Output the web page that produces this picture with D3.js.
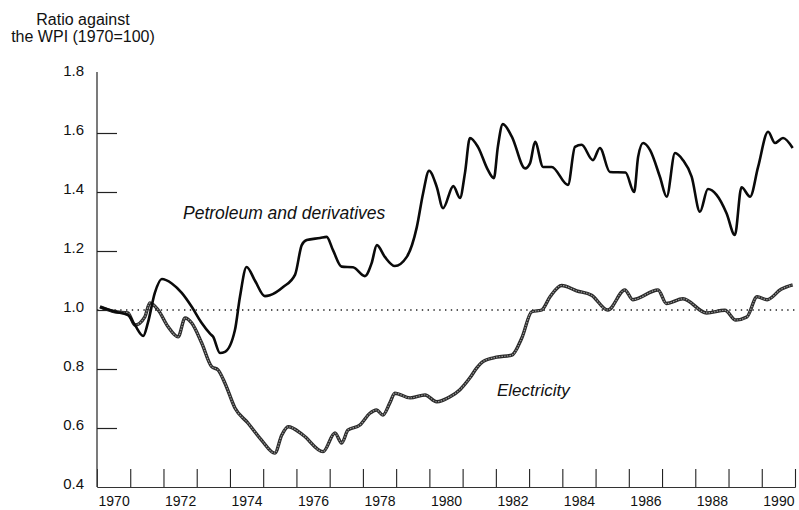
<!DOCTYPE html>
<html>
<head>
<meta charset="utf-8">
<script src="https://cdn.jsdelivr.net/npm/d3@7"></script>
<style>
  body { margin: 0; background: #fff; }
  text { font-family: "Liberation Sans", Arial, sans-serif; fill: #111; }
</style>
</head>
<body>
<div id="vis"></div>
<script>
// Price ratios against the WPI, 1970 = 1.0
const petroleum = [
  [1970.09, 1.010], [1970.54, 0.994], [1970.93, 0.983], [1971.14, 0.949],
  [1971.39, 0.912], [1971.53, 0.956], [1971.74, 1.058], [1971.95, 1.105],
  [1972.25, 1.090], [1972.55, 1.058], [1972.85, 1.011], [1973.15, 0.956],
  [1973.40, 0.920], [1973.49, 0.910], [1973.70, 0.854], [1973.85, 0.858],
  [1974.15, 0.932], [1974.30, 1.044], [1974.50, 1.146], [1974.75, 1.100],
  [1975.05, 1.047], [1975.20, 1.050], [1975.60, 1.078], [1975.96, 1.120],
  [1976.16, 1.220], [1976.31, 1.237], [1976.71, 1.244], [1976.91, 1.248],
  [1977.10, 1.203], [1977.36, 1.147], [1977.70, 1.145], [1978.06, 1.115],
  [1978.26, 1.158], [1978.42, 1.220], [1978.66, 1.180], [1978.96, 1.149],
  [1979.32, 1.180], [1979.62, 1.280], [1979.81, 1.395], [1979.99, 1.472],
  [1980.22, 1.418], [1980.41, 1.345], [1980.72, 1.420], [1980.92, 1.380],
  [1981.07, 1.464], [1981.22, 1.583], [1981.46, 1.553], [1981.76, 1.475],
  [1981.94, 1.447], [1982.06, 1.553], [1982.21, 1.630], [1982.48, 1.588],
  [1982.88, 1.480], [1983.03, 1.498], [1983.18, 1.570], [1983.42, 1.485],
  [1983.68, 1.485], [1984.17, 1.424], [1984.38, 1.553], [1984.58, 1.560],
  [1984.92, 1.508], [1985.13, 1.549], [1985.43, 1.468], [1985.90, 1.466],
  [1986.16, 1.400], [1986.28, 1.519], [1986.43, 1.566], [1986.64, 1.542],
  [1986.94, 1.450], [1987.14, 1.384], [1987.39, 1.532], [1987.63, 1.508],
  [1987.89, 1.452], [1988.14, 1.333], [1988.38, 1.410], [1988.64, 1.390],
  [1988.94, 1.328], [1989.19, 1.254], [1989.39, 1.416], [1989.65, 1.384],
  [1989.89, 1.485], [1990.19, 1.604], [1990.40, 1.566], [1990.64, 1.583],
  [1990.93, 1.549]
];

const electricity = [
  [1970.09, 1.011], [1970.54, 0.994], [1970.93, 0.990], [1971.14, 0.949],
  [1971.44, 0.977], [1971.59, 1.024], [1971.84, 1.000], [1972.14, 0.943],
  [1972.44, 0.909], [1972.65, 0.973], [1972.85, 0.956], [1973.15, 0.888],
  [1973.45, 0.808], [1973.64, 0.797], [1973.85, 0.752], [1974.15, 0.668],
  [1974.54, 0.617], [1974.95, 0.559], [1975.35, 0.515], [1975.56, 0.576],
  [1975.75, 0.604], [1976.20, 0.576], [1976.80, 0.520], [1977.16, 0.583],
  [1977.36, 0.549], [1977.55, 0.593], [1977.91, 0.610], [1978.21, 0.650],
  [1978.41, 0.661], [1978.60, 0.644], [1978.81, 0.685], [1978.96, 0.718],
  [1979.42, 0.702], [1979.87, 0.712], [1980.22, 0.689], [1980.62, 0.706],
  [1980.92, 0.730], [1981.22, 0.770], [1981.42, 0.803], [1981.61, 0.825],
  [1982.02, 0.840], [1982.48, 0.847], [1982.78, 0.905], [1983.08, 0.994],
  [1983.38, 1.000], [1983.63, 1.045], [1983.98, 1.083], [1984.43, 1.065],
  [1984.88, 1.050], [1985.37, 1.000], [1985.88, 1.068], [1986.12, 1.035],
  [1986.88, 1.068], [1987.13, 1.022], [1987.63, 1.038], [1988.34, 0.990],
  [1988.89, 0.999], [1989.22, 0.966], [1989.55, 0.976], [1989.86, 1.045],
  [1990.16, 1.035], [1990.58, 1.070], [1990.93, 1.085]
];

const yearLabels = d3.range(1970, 1991, 2);
const yearTicks = d3.range(1971, 1992);
const yLabels = [0.4, 0.6, 0.8, 1.0, 1.2, 1.4, 1.6, 1.8];
const yTicks = [0.6, 0.8, 1.0, 1.2, 1.4, 1.6];
const baseline = 1.0;

const width = 799;
const height = 510;

const svg = d3.select("#vis")
  .append("svg")
  .attr("width", width)
  .attr("height", height);

const x = d3.scaleLinear().domain([1970, 1991]).range([97, 795]);
const y = d3.scaleLinear().domain([0.4, 1.8]).range([487, 74]);

// Title
const title = svg.append("text")
  .attr("text-anchor", "middle")
  .attr("font-size", "16px");
title.append("tspan").attr("x", 83).attr("y", 25).text("Ratio against");
title.append("tspan").attr("x", 83).attr("y", 42).text("the WPI (1970=100)");

// y axis: labels on the left, short ticks inside
svg.append("g")
  .attr("transform", `translate(${x(1970)},0)`)
  .call(d3.axisLeft(y).tickValues(yLabels).tickSize(0).tickPadding(13)
    .tickFormat(d3.format(".1f")))
  .call(g => g.select(".domain").remove())
  .call(g => g.selectAll("text")
    .attr("font-size", "15px")
    .attr("font-family", null)
    .attr("fill", "#111")
    .attr("transform", "translate(0,-3)"));

svg.append("g")
  .attr("transform", `translate(${x(1970)},0)`)
  .call(d3.axisRight(y).tickValues(yTicks).tickSize(20).tickFormat(""))
  .call(g => g.select(".domain").remove())
  .call(g => g.selectAll("line").attr("stroke", "#222").attr("stroke-width", 1.2));

svg.append("line")
  .attr("x1", x(1970)).attr("x2", x(1970))
  .attr("y1", y(1.8) - 2).attr("y2", y(0.4))
  .attr("stroke", "#222").attr("stroke-width", 1.2);

// x axis: ticks at year boundaries, labels mid-year
svg.append("g")
  .attr("transform", `translate(0,${y(0.4)})`)
  .call(d3.axisBottom(x).tickValues(yearTicks).tickSize(-18).tickFormat(""))
  .call(g => g.select(".domain").attr("stroke", "#333").attr("stroke-width", 1))
  .call(g => g.selectAll("line").attr("stroke", "#222").attr("stroke-width", 1.1));

svg.append("g")
  .attr("transform", `translate(0,${y(0.4)})`)
  .call(d3.axisBottom(x).tickValues(yearLabels.map(d => d + 0.5)).tickSize(0)
    .tickPadding(9).tickFormat(d => Math.floor(d)))
  .call(g => g.select(".domain").remove())
  .call(g => g.selectAll("text")
    .attr("font-size", "14px")
    .attr("font-family", null)
    .attr("fill", "#111"));

// Dotted 1.0 line
svg.append("line")
  .attr("x1", x(1970)).attr("x2", x(1991))
  .attr("y1", y(baseline)).attr("y2", y(baseline))
  .attr("stroke", "#222")
  .attr("stroke-width", 1.4)
  .attr("stroke-dasharray", "1.4,4.4");

const line = d3.line()
  .x(d => x(d[0]))
  .y(d => y(d[1]))
  .curve(d3.curveMonotoneX);

// Electricity: textured grey double stroke
svg.append("path")
  .datum(electricity)
  .attr("d", line)
  .attr("fill", "none")
  .attr("stroke", "#2a2a2a")
  .attr("stroke-width", 3.4)
  .attr("stroke-linejoin", "round");

svg.append("path")
  .datum(electricity)
  .attr("d", line)
  .attr("fill", "none")
  .attr("stroke", "#9a9a9a")
  .attr("stroke-width", 1.2)
  .attr("stroke-dasharray", "1.5,1.2");

// Petroleum: solid black
svg.append("path")
  .datum(petroleum)
  .attr("d", line)
  .attr("fill", "none")
  .attr("stroke", "#0a0a0a")
  .attr("stroke-width", 2.6)
  .attr("stroke-linejoin", "round");

// Series labels
svg.append("text")
  .attr("x", 183).attr("y", 219)
  .attr("font-size", "17.5px")
  .attr("font-style", "italic")
  .text("Petroleum and derivatives");

svg.append("text")
  .attr("x", 497).attr("y", 396)
  .attr("font-size", "17px")
  .attr("font-style", "italic")
  .text("Electricity");
</script>
</body>
</html>
